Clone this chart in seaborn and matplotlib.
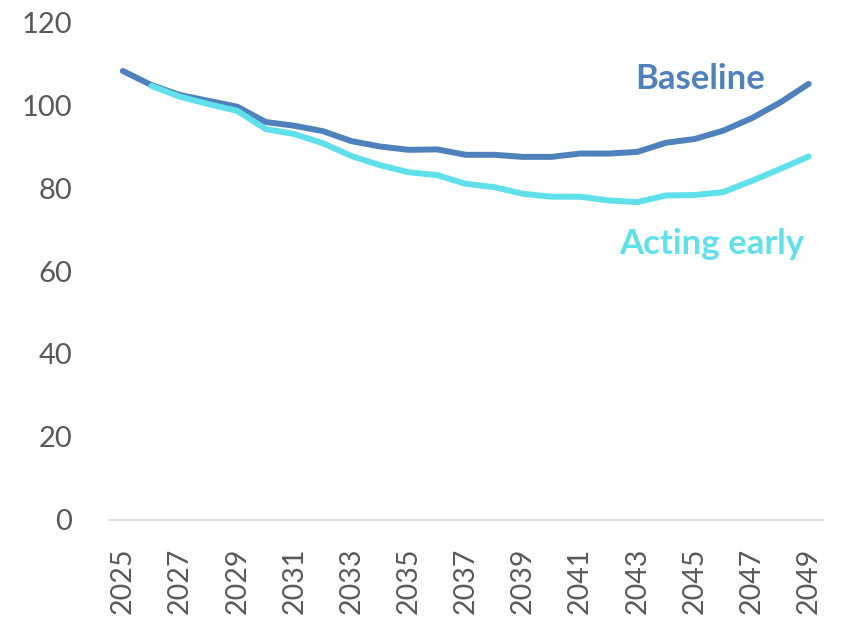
import matplotlib
matplotlib.use("Agg")
import matplotlib.pyplot as plt
import seaborn as sns
import pandas as pd
import numpy as np

years = list(range(2025, 2050))
baseline = [108.2, 104.8, 102.4, 101.0, 99.6, 95.9, 95.0, 93.7, 91.3, 90.0, 89.2, 89.3, 88.0,
            88.0, 87.5, 87.5, 88.3, 88.3, 88.7, 90.9, 91.8, 93.8, 96.8, 100.6, 105.1]
acting_years = list(range(2026, 2050))
acting_early = [104.6, 102.0, 100.2, 98.6, 94.2, 93.0, 90.8, 87.7, 85.5, 83.8, 83.1, 81.0,
                80.2, 78.6, 77.9, 77.9, 77.0, 76.6, 78.2, 78.3, 79.0, 81.7, 84.6, 87.6]
tick_years = list(range(2025, 2050, 2))
yticks = [0, 20, 40, 60, 80, 100, 120]

sns.set_theme(style="white")
plt.rcParams['font.family'] = ['Lato', 'DejaVu Sans']

df = pd.concat([
    pd.DataFrame({"year": years, "value": baseline, "series": "Baseline"}),
    pd.DataFrame({"year": acting_years, "value": acting_early, "series": "Acting early"}),
])

c_base = "#4F81BD"
c_act = "#5FE0EA"

fig = plt.figure(figsize=(8.56, 6.2), dpi=100)
ax = fig.add_axes([0.1268, 0.1613, 0.9615 - 0.1268, 0.9645 - 0.1613])
sns.lineplot(data=df, x="year", y="value", hue="series",
             palette={"Baseline": c_base, "Acting early": c_act},
             linewidth=4.3, legend=False, ax=ax)
for l in ax.lines:
    l.set_solid_capstyle("round")

ax.set_xlim(2024.5, 2049.5)
ax.set_ylim(0, 120)
ax.set_xticks(tick_years)
ax.set_xticklabels([str(y) for y in tick_years], rotation=90, fontsize=20.5, color="#595959")
ax.set_yticks(yticks)
ax.set_yticklabels([str(v) for v in yticks], fontsize=21, color="#595959")
ax.tick_params(axis="x", length=0, pad=20)
ax.tick_params(axis="y", length=0, pad=26)
ax.set_xlabel("")
ax.set_ylabel("")
for s in ["left", "right", "top"]:
    ax.spines[s].set_visible(False)
ax.spines["bottom"].set_color("#D9D9D9")
ax.spines["bottom"].set_linewidth(1.2)
ax.grid(False)

ax.text(2045.2, 106.3, "Baseline", color=c_base, fontsize=25, fontweight="bold",
        ha="center", va="center")
ax.text(2045.6, 66.5, "Acting early", color=c_act, fontsize=25, fontweight="bold",
        ha="center", va="center")

fig.savefig("out.png", dpi=100)
